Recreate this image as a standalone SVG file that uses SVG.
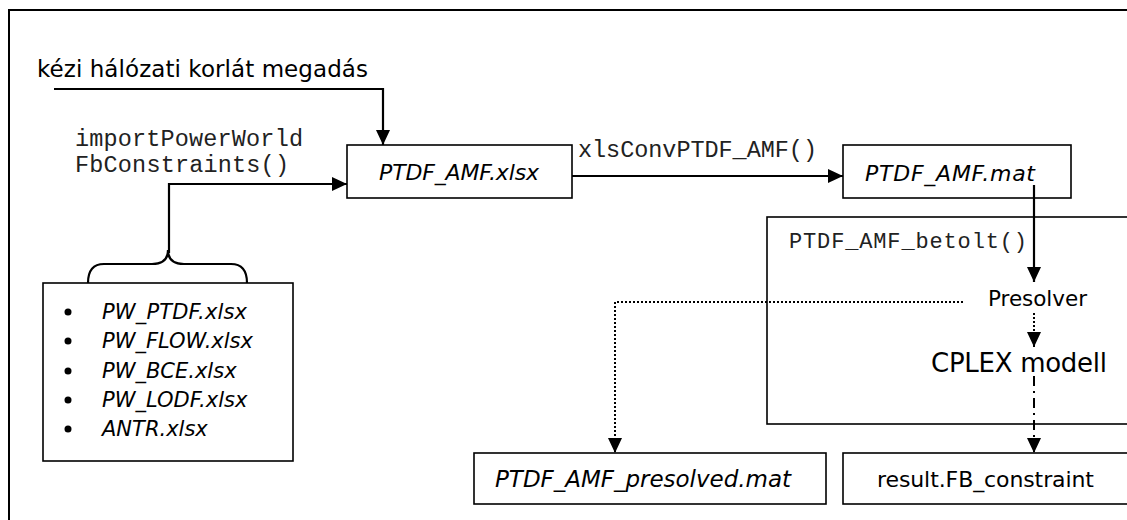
<svg xmlns="http://www.w3.org/2000/svg" width="1127" height="520" viewBox="0 0 1127 520">
<style>
.box{fill:#fff;stroke:#000;stroke-width:1.6}
.frame{fill:#fff;stroke:#000;stroke-width:2}
.sans{font-family:"DejaVu Sans","Liberation Sans",sans-serif;font-size:22px;fill:#000}
.it{font-style:italic}
.mono{font-family:"Liberation Mono","Courier New",monospace;font-size:23.5px;fill:#222}
.ln{fill:none;stroke:#000;stroke-width:2.2}
.dot{fill:none;stroke:#000;stroke-width:2;stroke-dasharray:2 2}
.dd{fill:none;stroke:#000;stroke-width:2;stroke-dasharray:10 5 2 5}
</style>
<defs>
<marker id="arr" viewBox="0 0 15 14" refX="15" refY="7" markerWidth="15" markerHeight="14" markerUnits="userSpaceOnUse" orient="auto">
<path d="M0,0 L15,7 L0,14 Z" fill="#000"/>
</marker>
</defs>
<rect class="frame" x="9" y="10" width="1140" height="540"/>

<g id="n_big">
<rect class="box" x="767" y="217" width="400" height="207"/>
<text class="mono" x="789" y="248" style="font-size:22px" textLength="238">PTDF_AMF_betolt()</text>
</g>
<g id="n_xlsx">
<rect class="box" x="347" y="145" width="225" height="53"/>
<text class="sans it" x="379" y="180" textLength="160">PTDF_AMF.xlsx</text>
</g>
<g id="n_mat">
<rect class="box" x="843" y="145" width="228" height="53"/>
<text class="sans it" x="865" y="181" textLength="170">PTDF_AMF.mat</text>
</g>
<g id="n_inputs">
<rect class="box" x="43" y="283" width="250" height="178"/>
<circle cx="68" cy="312" r="3.5"/>
<circle cx="68" cy="341" r="3.5"/>
<circle cx="68" cy="371" r="3.5"/>
<circle cx="68" cy="400" r="3.5"/>
<circle cx="68" cy="429" r="3.5"/>
<text class="sans it" x="102" y="319" style="font-size:21px" textLength="145">PW_PTDF.xlsx</text>
<text class="sans it" x="102" y="348" style="font-size:21px">PW_FLOW.xlsx</text>
<text class="sans it" x="102" y="378" style="font-size:21px">PW_BCE.xlsx</text>
<text class="sans it" x="102" y="407" style="font-size:21px">PW_LODF.xlsx</text>
<text class="sans it" x="102" y="436" style="font-size:21px">ANTR.xlsx</text>
</g>
<g id="n_presolver">
<text class="sans" x="988" y="306" style="font-size:21.5px" textLength="99">Presolver</text>
</g>
<g id="n_cplex">
<text class="sans" x="931" y="372" style="font-size:26px" textLength="176">CPLEX modell</text>
</g>
<g id="n_presolved">
<rect class="box" x="474" y="453" width="352" height="51"/>
<text class="sans it" x="495" y="487" style="font-size:23px" textLength="296">PTDF_AMF_presolved.mat</text>
</g>
<g id="n_result">
<rect class="box" x="843" y="453" width="400" height="51"/>
<text class="sans" x="877" y="487" textLength="217">result.FB_constraint</text>
</g>

<g id="connectors">
<path class="ln" d="M54,89 H383 V145" marker-end="url(#arr)"/>
<text class="sans" x="37" y="77" style="font-size:23px" textLength="331">kézi hálózati korlát megadás</text>
<path class="ln" d="M169,253 V184 H347" marker-end="url(#arr)"/>
<path class="ln" stroke-width="1.8" d="M88,283 Q88,264 104,264 L152,264 Q168,264 168,250 Q168,264 184,264 L231,264 Q247,264 247,283"/>
<text class="mono" x="75" y="146" textLength="228">importPowerWorld</text>
<text class="mono" x="75" y="172" textLength="214">FbConstraints()</text>
<path class="ln" d="M572,176 H843" marker-end="url(#arr)"/>
<text class="mono" x="578" y="157" textLength="239">xlsConvPTDF_AMF()</text>
<path class="ln" d="M1034,185 V282" marker-end="url(#arr)"/>
<path class="dot" d="M963,302 H615 V453" marker-end="url(#arr)"/>
<path class="dot" d="M1034,313 V347" marker-end="url(#arr)"/>
<path class="dd" d="M1034,376 V453" marker-end="url(#arr)"/>
</g>
</svg>
